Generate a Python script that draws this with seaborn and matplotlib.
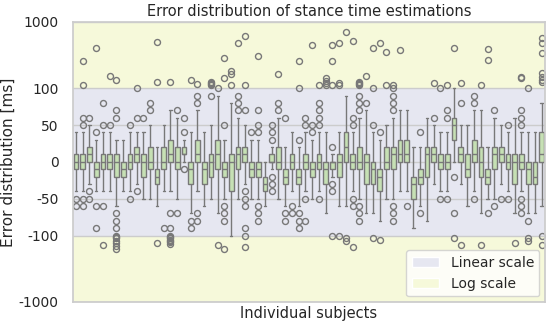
import pandas as pd
import seaborn as sns
import matplotlib
matplotlib.use("Agg")
import matplotlib.pyplot as plt
from matplotlib.patches import Patch

# per-subject box statistics (ms)
q1 = [-10, -10, 0, -20, -10, -10, -20, -20, -10, 0,
      -20, -10, -30, -10, 0, -10, 10, -30, 0, -30,
      -20, -10, -20, -40, -10, 0, -20, -20, -40, 0,
      -10, -30, -10, -30, -10, -20, -10, -30, -10, -20,
      0, -10, -10, -30, -30, -40, -10, -10, 0, 0,
      -50, -30, -20, 0, -10, -10, 30, 0, -20, 0,
      -20, -30, -10, 0, -10, -30, -10, -30, -30, 0]
med = [0, 0, 10, -10, 0, 0, 0, -10, 0, 10,
       0, 0, -20, 0, 10, 0, 10, -10, 10, -10,
       0, 10, -10, 0, 10, 10, -10, -10, -30, 0,
       0, -20, 0, -20, 0, -10, 0, -10, 0, 0,
       20, 0, 0, 0, -10, -20, 0, 10, 10, 10,
       -30, -20, 10, 10, 0, 0, 50, 10, -10, 10,
       0, -20, 10, 10, 0, 0, 0, -10, -20, 10]
q3 = [10, 10, 20, 0, 10, 10, 10, 0, 10, 20,
      10, 20, -10, 20, 30, 20, 20, 0, 30, 0,
      10, 30, 0, 10, 20, 20, 0, 0, -20, 10,
      20, -10, 10, -10, 10, 0, 10, 0, 0, 10,
      40, 10, 20, 10, 0, -10, 20, 20, 30, 30,
      -20, -10, 20, 20, 10, 10, 60, 20, 10, 30,
      20, -10, 20, 20, 10, 10, 10, 0, 0, 40]
whisk_lo = [-40, -40, -30, -40, -40, -40, -60, -40, -40, -30,
            -50, -50, -60, -40, -40, -50, 0, -70, -40, -60,
            -50, -70, -50, -100, -50, -30, -50, -50, -60, -10,
            -50, -60, -40, -60, -40, -50, -40, -70, -20, -60,
            -60, -40, -50, -70, -70, -80, -50, -50, -40, -40,
            -90, -60, -80, -30, -40, -40, 0, -30, -60, -40,
            -70, -50, -50, -30, -40, -70, -40, -70, -70, -60]
whisk_hi = [40, 40, 40, 30, 40, 40, 30, 30, 40, 40,
            40, 50, 20, 50, 70, 60, 30, 40, 70, 40,
            50, 90, 30, 80, 60, 50, 30, 30, 0, 20,
            60, 20, 40, 20, 40, 30, 40, 40, 10, 40,
            90, 40, 60, 70, 40, 30, 50, 60, 70, 70,
            20, 20, 50, 50, 40, 40, 100, 50, 50, 70,
            70, 20, 60, 50, 40, 60, 40, 40, 40, 80]
outliers = [
    [-50, -60], [50, 60, -50, -60, 110, 256], [50, 60, -40, -50], [40, -60, -90, 399],
    [50, 80, -60, -140], [50, 152],
    [60, 70, 131, -70, -80, -90, -100, -105, -110, -120, -130, -145, -160],
    [], [50, -50], [60, -40, 100], [60], [70, 80], [122, 503, -131], [-90],
    [-70, -90, -100, -105, -110, -115, -120, -125, -135, 122], [70, -70], [-10, 40, 60],
    [-80, -90, 131], [80, 90, 115, -70, -80], [], [90, 110, 115, 120, 125], [100, -140],
    [50, 143, 288, -60, -70, -80, -159], [110, 165, 180], [70, 80, 90, 475],
    [70, -40, -50, -60, -90, -100, -150, 110, 613], [40], [40, 50, 70, -60, -70, -80, 308],
    [], [30, 40, 50, -20, -30, -40], [70, 80, 163], [60, -70, -80], [-60, -70],
    [30, -70, -80, -90, 100, 256], [50, 60, -50, -80], [40, 50, 443], [50, 60, 70, 80, -50, 110],
    [110, 120, 130, 140], [20, -30, -40, 110, 256, 443, -100], [110, 120, 485, -100],
    [706, -107, -120], [50, 60, -50, -60, 516, -148],
    [70, 80, 90, -60, -70, -80, 110, 115, 120, 125], [80, 152], [50, 100, 404, -108],
    [40, 485, -118], [355, 110], [70, 80, 90, -60, -70, -80, 100, 110], [377], [-60],
    [], [40, -70], [60], [60, 120], [-50, 100], [60, 70, -50, 110], [-20, -70, 399, -108],
    [80, 120, -140], [], [80, 90, -50], [110, -140], [-70, 387, 262], [70, -60], [-50],
    [50, -50], [-129], [50, 60, 70, -50, -60, -70, 140, 145], [-80, 100, -108, -120], [],
    [125, 135, 145, 170, 340, 480, 570, -100, -140],
]

yticks = [-1000, -100, -50, 0, 50, 100, 1000]
ytick_labels = ["-1000", "-100", "-50", "0", "50", "100", "1000"]

lin_color = "#e6e7f1"
log_color = "#f6f9da"
box_color = "#c6e0b4"
edge_color = "#787878"

# long-form table: each quartile repeated so the boxplot recovers the read statistics
rows = []
for i in range(len(q1)):
    vals = [whisk_lo[i], whisk_hi[i]] + [q1[i]] * 40 + [med[i]] * 40 + [q3[i]] * 40 + outliers[i]
    for v in vals:
        rows.append((i, v))
df = pd.DataFrame(rows, columns=["subject", "error"])

sns.set_theme(style="whitegrid")
plt.rcParams["font.family"] = ["DejaVu Sans"]

fig, ax = plt.subplots(figsize=(5.5, 3.26), dpi=100)
fig.subplots_adjust(left=0.132, right=0.991, top=0.933, bottom=0.074)

ax.axhspan(-100, 100, color=lin_color, zorder=0, lw=0)
ax.axhspan(100, 1000, color=log_color, zorder=0, lw=0)
ax.axhspan(-1000, -100, color=log_color, zorder=0, lw=0)

sns.boxplot(data=df, x="subject", y="error", color=box_color, saturation=1,
            linecolor=edge_color, linewidth=1, width=0.7, fliersize=4.3,
            flierprops=dict(marker="o", markerfacecolor="none", markeredgecolor=edge_color),
            ax=ax)

ax.set_yscale("symlog", linthresh=100, linscale=1)
ax.set_ylim(-1000, 1000)
ax.set_yticks(yticks)
ax.set_yticklabels(ytick_labels, fontsize=10)
ax.yaxis.set_minor_locator(matplotlib.ticker.NullLocator())
ax.tick_params(axis="y", pad=4)
ax.set_xticks([])
ax.grid(axis="x", visible=False)
ax.set_axisbelow(True)

ax.set_title("Error distribution of stance time estimations", fontsize=10.5, pad=4)
ax.set_ylabel("Error distribution [ms]", fontsize=11, labelpad=2)
ax.set_xlabel("Individual subjects", fontsize=10.5, labelpad=3)

handles = [Patch(facecolor=lin_color, label="Linear scale"),
           Patch(facecolor=log_color, label="Log scale")]
ax.legend(handles=handles, loc="lower right", fontsize=10, handlelength=2.0,
          facecolor="white", framealpha=0.8, borderaxespad=0.4)

plt.savefig("out.png", dpi=100)
